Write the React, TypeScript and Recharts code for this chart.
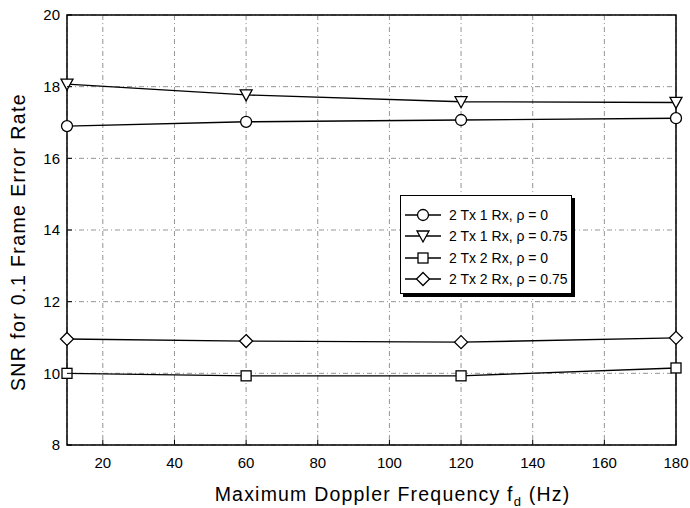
import React from 'react';
import { LineChart, Line, XAxis, YAxis, CartesianGrid, ReferenceArea, Legend } from 'recharts';

const freqs = [10, 60, 120, 180];
const snr1Rx0 = [16.9, 17.02, 17.07, 17.12];
const snr1Rx075 = [18.07, 17.77, 17.58, 17.56];
const snr2Rx0 = [10.0, 9.93, 9.93, 10.15];
const snr2Rx075 = [10.96, 10.9, 10.87, 10.99];
const xTicks = [20, 40, 60, 80, 100, 120, 140, 160, 180];
const yTicks = [8, 10, 12, 14, 16, 18, 20];
const seriesNames = ['2 Tx 1 Rx, \u03c1 = 0', '2 Tx 1 Rx, \u03c1 = 0.75', '2 Tx 2 Rx, \u03c1 = 0', '2 Tx 2 Rx, \u03c1 = 0.75'];
const markerKinds = ['circle', 'triangle', 'square', 'diamond'];

const data = freqs.map((f, i) => ({
  f,
  a: snr1Rx0[i],
  b: snr1Rx075[i],
  c: snr2Rx0[i],
  d: snr2Rx075[i],
}));

const FONT = '"Liberation Sans", Arial, Helvetica, sans-serif';

function Marker({ kind, cx, cy }: { kind: string; cx: number; cy: number }) {
  const s = { fill: '#fff', stroke: '#000', strokeWidth: 1.3 };
  if (kind === 'circle') return <circle cx={cx} cy={cy} r={5.5} {...s} />;
  if (kind === 'square') return <rect x={cx - 5} y={cy - 5} width={10} height={10} {...s} />;
  if (kind === 'diamond')
    return <polygon points={`${cx},${cy - 6.5} ${cx + 6.5},${cy} ${cx},${cy + 6.5} ${cx - 6.5},${cy}`} {...s} />;
  return <polygon points={`${cx - 6},${cy - 5} ${cx + 6},${cy - 5} ${cx},${cy + 6}`} {...s} />;
}

const makeDot = (kind: string) => (props: any) => {
  const { cx, cy, index } = props;
  if (cx == null || cy == null) return <g key={`n-${kind}-${index}`} />;
  return <Marker key={`${kind}-${index}`} kind={kind} cx={cx} cy={cy} />;
};

const XTick = (props: any) => {
  const { x, y, payload } = props;
  const ay = y - 12;
  return (
    <g>
      <line x1={x} y1={ay} x2={x} y2={ay - 5} stroke="#000" strokeWidth={1} />
      <text x={x} y={y} dy="0.71em" textAnchor="middle" fontSize={15} fontFamily={FONT} fill="#000">
        {payload.value}
      </text>
    </g>
  );
};

const YTick = (props: any) => {
  const { x, y, payload } = props;
  const ax = x + 7;
  return (
    <g>
      <line x1={ax} y1={y} x2={ax + 5} y2={y} stroke="#000" strokeWidth={1} />
      <text x={x} y={y} dy="0.36em" textAnchor="end" fontSize={15} fontFamily={FONT} fill="#000">
        {payload.value}
      </text>
    </g>
  );
};

const LegendBox = () => (
  <div
    style={{
      position: 'absolute',
      left: 400,
      top: 195,
      width: 172,
      height: 99,
      border: '1.5px solid #000',
      boxShadow: '3px 3px 0 #000',
      background: '#fff',
      boxSizing: 'border-box',
      fontFamily: FONT,
      fontSize: 14,
      paddingTop: 8,
    }}
  >
    {seriesNames.map((n, i) => (
      <div key={n} style={{ display: 'flex', alignItems: 'center', height: 21.5 }}>
        <svg width={40} height={16} style={{ marginLeft: 2, flexShrink: 0 }}>
          <line x1={2} y1={8} x2={38} y2={8} stroke="#000" strokeWidth={1.3} />
          <Marker kind={markerKinds[i]} cx={20} cy={8} />
        </svg>
        <span style={{ marginLeft: 6, whiteSpace: 'nowrap' }}>{n}</span>
      </div>
    ))}
  </div>
);

export default function App() {
  return (
    <div style={{ position: 'absolute', left: 0, top: 0, width: 690, height: 508, background: '#fff' }}>
      <LineChart width={690} height={508} data={data} margin={{ top: 15, right: 14, bottom: 0, left: 0 }}>
        <CartesianGrid stroke="#888" strokeDasharray="5 3 1 3" strokeWidth={0.9} />
        <XAxis
          dataKey="f"
          type="number"
          domain={[10, 180]}
          ticks={xTicks}
          height={63}
          axisLine={false}
          tickLine={false}
          tickSize={0}
          tickMargin={12}
          tick={<XTick />}
          label={({ viewBox }: any) => (
            <text
              x={viewBox.x + viewBox.width / 2 + 21}
              y={501}
              textAnchor="middle"
              fontSize={19.5}
              letterSpacing={1.2}
              fontFamily={FONT}
              fill="#000"
            >
              Maximum Doppler Frequency f
              <tspan fontSize={13} dy={5}>d</tspan>
              <tspan dy={-5}> (Hz)</tspan>
            </text>
          )}
        />
        <YAxis
          type="number"
          domain={[8, 20]}
          ticks={yTicks}
          width={67}
          axisLine={false}
          tickLine={false}
          tickSize={0}
          tickMargin={7}
          tick={<YTick />}
          label={({ viewBox }: any) => (
            <text
              x={25}
              y={viewBox.y + viewBox.height / 2 + 12}
              transform={`rotate(-90 25 ${viewBox.y + viewBox.height / 2 + 12})`}
              textAnchor="middle"
              fontSize={19.5}
              letterSpacing={1.4}
              fontFamily={FONT}
              fill="#000"
            >
              SNR for 0.1 Frame Error Rate
            </text>
          )}
        />
        <ReferenceArea x1={10} x2={180} y1={8} y2={20} fill="none" fillOpacity={0} stroke="#000" strokeWidth={1.5} ifOverflow="visible" />
        <Line dataKey="a" name={seriesNames[0]} stroke="#000" strokeWidth={1.4} dot={makeDot('circle')} isAnimationActive={false} />
        <Line dataKey="b" name={seriesNames[1]} stroke="#000" strokeWidth={1.4} dot={makeDot('triangle')} isAnimationActive={false} />
        <Line dataKey="c" name={seriesNames[2]} stroke="#000" strokeWidth={1.4} dot={makeDot('square')} isAnimationActive={false} />
        <Line dataKey="d" name={seriesNames[3]} stroke="#000" strokeWidth={1.4} dot={makeDot('diamond')} isAnimationActive={false} />
        <Legend content={() => null} />
      </LineChart>
      <LegendBox />
    </div>
  );
}
